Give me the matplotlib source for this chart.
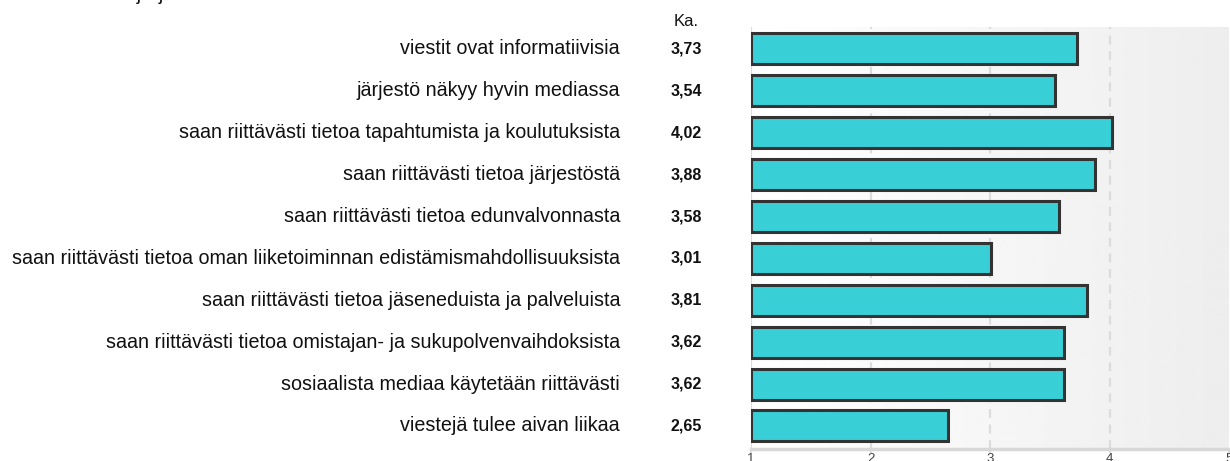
import numpy as np
import matplotlib
matplotlib.use("Agg")
from matplotlib import pyplot as plt

plt.rcParams['font.family'] = ['Liberation Sans', 'DejaVu Sans']

labels = [
    "viestit ovat informatiivisia",
    "järjestö näkyy hyvin mediassa",
    "saan riittävästi tietoa tapahtumista ja koulutuksista",
    "saan riittävästi tietoa järjestöstä",
    "saan riittävästi tietoa edunvalvonnasta",
    "saan riittävästi tietoa oman liiketoiminnan edistämismahdollisuuksista",
    "saan riittävästi tietoa jäseneduista ja palveluista",
    "saan riittävästi tietoa omistajan- ja sukupolvenvaihdoksista",
    "sosiaalista mediaa käytetään riittävästi",
    "viestejä tulee aivan liikaa",
]
means = [3.73, 3.54, 4.02, 3.88, 3.58, 3.01, 3.81, 3.62, 3.62, 2.65]
ticks = [1, 2, 3, 4, 5]

W, H = 1230, 461
fig = plt.figure(figsize=(W / 100, H / 100), dpi=100)


def fx(px):
    return px / W


def fy(py):
    return 1 - py / H


ax = fig.add_axes([fx(751), fy(449), fx(1229) - fx(751), fy(27) - fy(449)])
ax.set_xlim(1, 5)
ax.set_ylim(len(labels) - 0.45, -0.525)

# gradient background
grad = np.linspace(1.0, 0.93, 256).reshape(1, -1)
ax.imshow(grad, cmap='gray', vmin=0, vmax=1, aspect='auto',
          extent=[1, 5, len(labels) - 0.45, -0.525], zorder=0)

for t in ticks[1:-1]:
    ax.axvline(t, color='#dcdcdc', lw=1.6, ls=(0, (4, 3)), zorder=1)
ax.axvline(1, color='#dcdcdc', lw=1.6, zorder=1)

y = np.arange(len(labels))
ax.barh(y, np.array(means) - 1, left=1, height=0.74, color='#38cfd6',
        edgecolor='#333333', linewidth=2.2, zorder=3)

for s in ['top', 'right', 'left']:
    ax.spines[s].set_visible(False)
ax.spines['bottom'].set_color('#d8d8d8')
ax.spines['bottom'].set_linewidth(2.5)
ax.set_yticks([])
ax.set_xticks(ticks)
ax.set_xticklabels([str(t) for t in ticks], fontsize=9.5, color='#444444')
ax.tick_params(axis='x', length=3, width=1.2, color='#d8d8d8', pad=0)

for i, (lab, m) in enumerate(zip(labels, means)):
    yy = ax.transData.transform((1, i))[1] / H
    fig.text(fx(620), yy, lab, ha='right', va='center', fontsize=14.2,
             color='#111111')
    fig.text(fx(686), yy, f"{m:.2f}".replace('.', ','), ha='center',
             va='center', fontsize=11.5, fontweight='bold', color='#111111')

fig.text(fx(686), fy(21), "Ka.", ha='center', va='center', fontsize=12,
         color='#111111')
fig.text(fx(-10), fy(-6), "Arvioi seuraavia järjestön viestintää", ha='left',
         va='center', fontsize=14.2, color='#111111')

fig.savefig("out.png", dpi=100)
